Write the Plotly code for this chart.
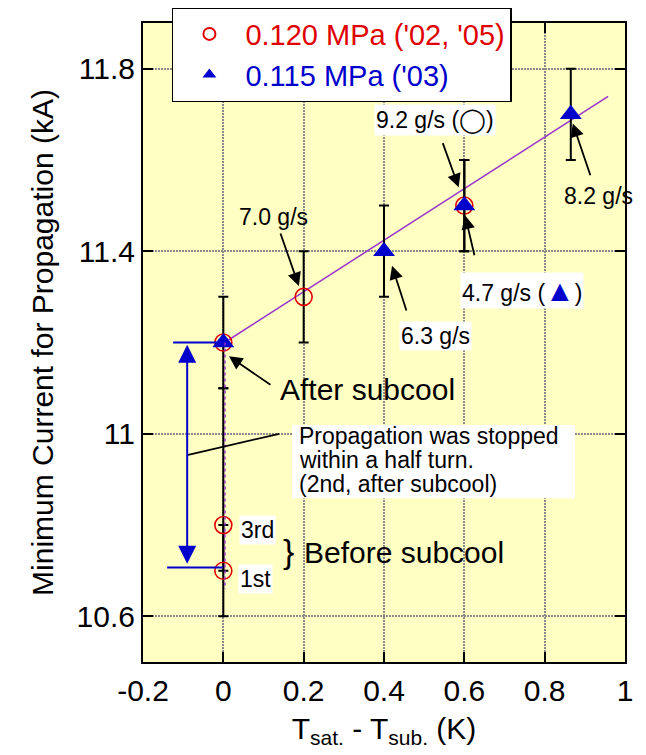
import plotly.graph_objects as go

# ---- data ----
red_x = [0, 0.2, 0.6, 0, 0]
red_y = [11.2, 11.3, 11.5, 10.8, 10.7]
red_err_plus = [0.1, 0.1, 0.1, 0.3, 0.1]
red_err_minus = [0.1, 0.1, 0.1, 0.1, 0.1]

blue_x = [0, 0.4, 0.6, 0.865]
blue_y = [11.2, 11.4, 11.5, 11.7]
blue_err = [0, 0.1, 0.1, 0.1]

fit_x = [0.003, 0.958]
fit_y = [11.2, 11.739]

x_ticks = [-0.2, 0, 0.2, 0.4, 0.6, 0.8, 1]
x_ticktext = ["-0.2", "0", "0.2", "0.4", "0.6", "0.8", "1"]
y_ticks = [10.6, 11.0, 11.4, 11.8]
y_ticktext = ["10.6", "11", "11.4", "11.8"]

FONT = "Arial, Liberation Sans, Helvetica, sans-serif"
RED = "#e00000"
BLUE = "#0000cc"
PURPLE = "#9933cc"

fig = go.Figure()

fig.add_trace(go.Scatter(
    x=fit_x, y=fit_y, mode="lines", line=dict(color=PURPLE, width=1.5),
    showlegend=False, hoverinfo="skip"))

fig.add_trace(go.Scatter(
    x=red_x, y=red_y, mode="markers",
    name=f"<span style='color:{RED}'>0.120 MPa ('02, '05)</span>",
    marker=dict(symbol="circle-open", size=17, color=RED, line=dict(width=1.6, color=RED)),
    error_y=dict(type="data", array=red_err_plus, arrayminus=red_err_minus,
                 color="black", thickness=2, width=5),
))
fig.add_trace(go.Scatter(
    x=blue_x, y=blue_y, mode="markers",
    name=f"<span style='color:{BLUE}'>0.115 MPa ('03)</span>",
    marker=dict(symbol="triangle-up", size=19, color=BLUE, line=dict(width=0)),
    error_y=dict(type="data", array=blue_err, color="black", thickness=2, width=5),
))

shapes = [
    dict(type="line", x0=0.004, x1=0.004, y0=11.2, y1=10.66, xref="x", yref="y",
         line=dict(color=PURPLE, width=1.5, dash="dot"), layer="above"),
    dict(type="line", x0=-0.125, x1=0, y0=11.2, y1=11.2, xref="x", yref="y",
         line=dict(color=BLUE, width=2), layer="above"),
    dict(type="line", x0=-0.14, x1=0, y0=10.707, y1=10.707, xref="x", yref="y",
         line=dict(color=BLUE, width=2), layer="above"),
    dict(type="line", x0=-0.09, x1=0.139, y0=10.953, y1=11.0, xref="x", yref="y",
         line=dict(color="black", width=1.8), layer="above"),
    dict(type="rect", x0=0.171, x1=0.8755, y0=10.859, y1=11.019, xref="x", yref="y",
         fillcolor="white", line=dict(width=0), layer="above"),
]

ann = []

def arrow(hx, hy, tx, ty, color="black", width=1.8, size=1.5, head=2, side="end"):
    ann.append(dict(x=hx, y=hy, ax=tx, ay=ty, xref="x", yref="y", axref="x", ayref="y",
                    text="", showarrow=True, arrowhead=head, arrowsize=size,
                    arrowwidth=width, arrowcolor=color, arrowside=side,
                    startarrowhead=head, startarrowsize=size))

def label(x, y, text, size=23, bg=None, xanchor="center"):
    d = dict(x=x, y=y, xref="x", yref="y", text=text, showarrow=False,
             font=dict(family=FONT, size=size, color="black"), xanchor=xanchor,
             borderpad=1)
    if bg:
        d["bgcolor"] = bg
    ann.append(d)

arrow(-0.09, 11.195, -0.09, 10.712, color=BLUE, width=2, size=1.8, head=2, side="end+start")

arrow(0.586, 11.54, 0.545, 11.64)
arrow(0.870, 11.68, 0.915, 11.563)
arrow(0.188, 11.324, 0.141, 11.442)
arrow(0.420, 11.368, 0.457, 11.267)
arrow(0.602, 11.478, 0.626, 11.388)
arrow(0.014, 11.170, 0.121, 11.105)

label(0.527, 11.688, "9.2 g/s (<span style='font-size:24px'>\u25ef</span>)", bg="white")
label(0.935, 11.52, "8.2 g/s")
label(0.125, 11.475, "7.0 g/s")
label(0.529, 11.214, "6.3 g/s", bg="white")
label(0.743, 11.313, f"4.7 g/s (<span style='color:{BLUE};font-size:30px'>\u25b2</span>)", bg="white")
label(0.36, 11.098, "After subcool", size=30)
label(0.183, 10.995, "Propagation was stopped", xanchor="left")
label(0.183, 10.942, "within a half turn.", xanchor="left")
label(0.183, 10.890, "(2nd, after subcool)", xanchor="left")
label(0.084, 10.79, "3rd", bg="white")
label(0.081, 10.681, "1st", bg="white")
label(0.161, 10.743, "}", size=34)
label(0.45, 10.74, "Before subcool", size=30)

axis_common = dict(
    showline=True, linewidth=2, linecolor="black", mirror="ticks",
    ticks="inside", ticklen=10, tickwidth=2, tickcolor="black",
    showgrid=True, gridcolor="#8a8a8a", gridwidth=2, griddash="2px,1px",
    zeroline=False, tickfont=dict(family=FONT, size=30, color="black"),
    automargin=False,
)

# page body has an 8px default margin, so the figure is sized/offset to compensate
fig.update_layout(
    width=638, height=747,
    margin=dict(l=135, r=21, t=15, b=93, autoexpand=False),
    paper_bgcolor="white", plot_bgcolor="#ffffc4",
    font=dict(family=FONT, color="black"),
    showlegend=True,
    legend=dict(x=0.06, y=1.025, xanchor="left", yanchor="top",
                bgcolor="white", bordercolor="black", borderwidth=1.5,
                font=dict(family=FONT, size=29), itemsizing="constant",
                itemwidth=62),
    xaxis=dict(range=[-0.2, 1.0], tickvals=x_ticks, ticktext=x_ticktext,
               ticklabelstandoff=1,
               title=dict(text="T<sub>sat.</sub> - T<sub>sub.</sub> (K)",
                          font=dict(family=FONT, size=30), standoff=12),
               **axis_common),
    yaxis=dict(range=[10.5, 11.9], tickvals=y_ticks, ticktext=y_ticktext,
               ticklabelstandoff=0,
               title=dict(text="Minimum Current for Propagation (kA)",
                          font=dict(family=FONT, size=30), standoff=14),
               **axis_common),
    shapes=shapes,
    annotations=ann,
)

fig.write_html("out.html")
